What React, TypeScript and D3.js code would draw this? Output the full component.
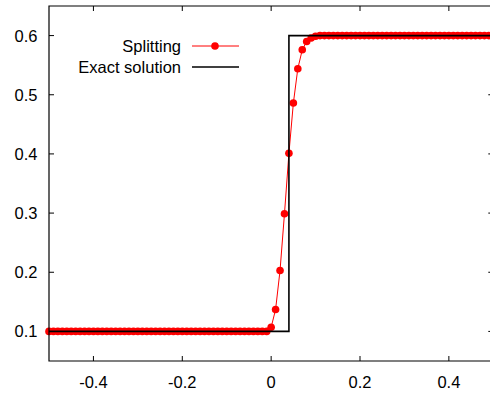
import React from "react";
import * as d3 from "d3";

const splittingX: number[] = [
  -0.5, -0.49, -0.48, -0.47, -0.46, -0.45, -0.44, -0.43, -0.42, -0.41,
  -0.4, -0.39, -0.38, -0.37, -0.36, -0.35, -0.34, -0.33, -0.32, -0.31,
  -0.3, -0.29, -0.28, -0.27, -0.26, -0.25, -0.24, -0.23, -0.22, -0.21,
  -0.2, -0.19, -0.18, -0.17, -0.16, -0.15, -0.14, -0.13, -0.12, -0.11,
  -0.1, -0.09, -0.08, -0.07, -0.06, -0.05, -0.04, -0.03, -0.02, -0.01,
  0.0, 0.01, 0.02, 0.03, 0.04, 0.05, 0.06, 0.07, 0.08, 0.09,
  0.1, 0.11, 0.12, 0.13, 0.14, 0.15, 0.16, 0.17, 0.18, 0.19,
  0.2, 0.21, 0.22, 0.23, 0.24, 0.25, 0.26, 0.27, 0.28, 0.29,
  0.3, 0.31, 0.32, 0.33, 0.34, 0.35, 0.36, 0.37, 0.38, 0.39,
  0.4, 0.41, 0.42, 0.43, 0.44, 0.45, 0.46, 0.47, 0.48, 0.49,
  0.5,
];

const splittingY: number[] = [
  0.1, 0.1, 0.1, 0.1, 0.1, 0.1, 0.1, 0.1, 0.1, 0.1,
  0.1, 0.1, 0.1, 0.1, 0.1, 0.1, 0.1, 0.1, 0.1, 0.1,
  0.1, 0.1, 0.1, 0.1, 0.1, 0.1, 0.1, 0.1, 0.1, 0.1,
  0.1, 0.1, 0.1, 0.1, 0.1, 0.1, 0.1, 0.1, 0.1, 0.1,
  0.1, 0.1, 0.1, 0.1, 0.1, 0.1, 0.1, 0.1, 0.1, 0.1,
  0.107, 0.137, 0.203, 0.299, 0.401, 0.486, 0.544, 0.576, 0.59, 0.596,
  0.599, 0.6, 0.6, 0.6, 0.6, 0.6, 0.6, 0.6, 0.6, 0.6,
  0.6, 0.6, 0.6, 0.6, 0.6, 0.6, 0.6, 0.6, 0.6, 0.6,
  0.6, 0.6, 0.6, 0.6, 0.6, 0.6, 0.6, 0.6, 0.6, 0.6,
  0.6, 0.6, 0.6, 0.6, 0.6, 0.6, 0.6, 0.6, 0.6, 0.6,
  0.6,
];

const exactX: number[] = [-0.5, 0.04, 0.04, 0.5];
const exactY: number[] = [0.1, 0.1, 0.6, 0.6];

const xTicks: number[] = [-0.4, -0.2, 0, 0.2, 0.4];
const yTicks: number[] = [0.1, 0.2, 0.3, 0.4, 0.5, 0.6];
const xTickLabels: string[] = ["-0.4", "-0.2", "0", "0.2", "0.4"];
const yTickLabels: string[] = ["0.1", "0.2", "0.3", "0.4", "0.5", "0.6"];

const legendLabels: string[] = ["Splitting", "Exact solution"];

const W = 490;
const H = 397;
const left = 49;
const right = 493.3;
const top = 6;
const bottom = 361;
const font = "'Liberation Sans', Arial, Helvetica, sans-serif";
const fs = 16.5;

export default function App() {
  const x = d3.scaleLinear().domain([-0.5, 0.5]).range([left, right]);
  const y = d3.scaleLinear().domain([0.05, 0.65]).range([bottom, top]);

  const splitPts = splittingX.map((v, i) => [v, splittingY[i]] as [number, number]);
  const exactPts = exactX.map((v, i) => [v, exactY[i]] as [number, number]);

  const line = d3
    .line<[number, number]>()
    .x((d) => x(d[0]))
    .y((d) => y(d[1]));

  const red = "#ff0000";

  return (
    <svg
      width={W}
      height={H}
      style={{ position: "absolute", left: 0, top: 0, background: "#fff" }}
    >
      <rect x={0} y={0} width={W} height={H} fill="#fff" />
      {xTicks.map((t) => (
        <g key={"xt" + t}>
          <line x1={x(t)} x2={x(t)} y1={bottom} y2={bottom - 5} stroke="#000" strokeWidth={1} />
          <line x1={x(t)} x2={x(t)} y1={top} y2={top + 5} stroke="#000" strokeWidth={1} />
        </g>
      ))}
      {yTicks.map((t) => (
        <g key={"yt" + t}>
          <line x1={left} x2={left + 5} y1={y(t)} y2={y(t)} stroke="#000" strokeWidth={1} />
          <line x1={right} x2={right - 5} y1={y(t)} y2={y(t)} stroke="#000" strokeWidth={1} />
        </g>
      ))}
      <path d={line(splitPts) || ""} fill="none" stroke={red} strokeWidth={1} />
      {splitPts.map((p, i) => (
        <circle key={i} cx={x(p[0])} cy={y(p[1])} r={3.8} fill={red} />
      ))}
      <path d={line(exactPts) || ""} fill="none" stroke="#000" strokeWidth={1.6} />
      <path
        d={`M${left},${top}H${right}V${bottom}H${left}Z`}
        fill="none"
        stroke="#000"
        strokeWidth={1.2}
      />
      {xTicks.map((t, i) => (
        <text
          key={"xl" + t}
          x={x(t)}
          y={387.5}
          textAnchor="middle"
          fontFamily={font}
          fontSize={fs}
          fill="#000"
        >
          {xTickLabels[i]}
        </text>
      ))}
      {yTicks.map((t, i) => (
        <text
          key={"yl" + t}
          x={37.5}
          y={y(t) + 6}
          textAnchor="end"
          fontFamily={font}
          fontSize={fs}
          fill="#000"
        >
          {yTickLabels[i]}
        </text>
      ))}
      <text x={181} y={52} textAnchor="end" fontFamily={font} fontSize={fs} fill="#000">
        {legendLabels[0]}
      </text>
      <line x1={192} x2={239} y1={46} y2={46} stroke={red} strokeWidth={1} />
      <circle cx={215} cy={46} r={3.8} fill={red} />
      <text x={181} y={73} textAnchor="end" fontFamily={font} fontSize={fs} fill="#000">
        {legendLabels[1]}
      </text>
      <line x1={192} x2={239} y1={67} y2={67} stroke="#000" strokeWidth={1.6} />
    </svg>
  );
}
